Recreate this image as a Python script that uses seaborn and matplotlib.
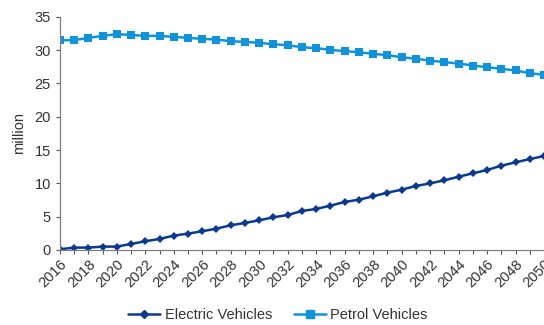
import pandas as pd
import matplotlib
matplotlib.use("Agg")
import matplotlib.pyplot as plt
import seaborn as sns

# data (million vehicles)
years = list(range(2016, 2051))
electric = [0.1, 0.35, 0.35, 0.5, 0.5, 0.9, 1.3, 1.65, 2.15, 2.45,
            2.8, 3.2, 3.7, 4.05, 4.45, 4.9, 5.25, 5.85, 6.15, 6.65,
            7.2, 7.55, 8.05, 8.6, 9.05, 9.6, 10.0, 10.45, 11.0, 11.5,
            12.0, 12.65, 13.15, 13.65, 14.1]
petrol = [31.5, 31.5, 31.85, 32.15, 32.4, 32.3, 32.15, 32.15, 32.0, 31.85,
          31.7, 31.6, 31.35, 31.25, 31.1, 30.9, 30.75, 30.45, 30.3, 30.05,
          29.85, 29.7, 29.45, 29.25, 28.95, 28.7, 28.45, 28.2, 28.0, 27.7,
          27.45, 27.2, 26.95, 26.55, 26.3]
series_names = ["Electric Vehicles", "Petrol Vehicles"]
colors = ["#0a3a90", "#0f94dc"]

df = pd.DataFrame({"year": years, series_names[0]: electric, series_names[1]: petrol})
long_df = df.melt(id_vars="year", var_name="series", value_name="value")

sns.set_theme(style="white")
plt.rcParams["font.family"] = ["Liberation Sans", "DejaVu Sans"]

fig = plt.figure(figsize=(5.44, 3.25), dpi=100)
ax = fig.add_axes([0.110, 0.231, 0.89, 0.717])

sns.lineplot(data=long_df, x="year", y="value", hue="series", style="series",
             palette=colors, markers=["D", "s"], dashes=False, linewidth=1.8,
             markersize=5, markeredgewidth=0, ax=ax, legend=False)
# diamond a bit smaller than the square
for line, ms in zip(ax.lines, [4.5, 6.0]):
    line.set_markersize(ms)

ax.set_xlim(2016, 2050)
ax.set_ylim(0, 35)
ax.set_xticks(years, minor=True)
ax.set_xticks(years[::2])
ax.set_xticklabels([str(y) for y in years[::2]], rotation=45, ha="right",
                   rotation_mode="anchor")
ax.set_yticks(range(0, 36, 5))
ax.tick_params(axis="both", which="both", direction="out", length=3, width=0.8,
               color="#555555", labelsize=10.5, labelcolor="#333333", bottom=True, left=True)
ax.tick_params(axis="x", pad=2)
ax.set_xlabel("")
ax.set_ylabel("million", fontsize=10.5, color="#333333", labelpad=6)

for side in ["top", "right"]:
    ax.spines[side].set_visible(False)
for side in ["left", "bottom"]:
    ax.spines[side].set_color("#808080")
    ax.spines[side].set_linewidth(0.9)

handles = [plt.Line2D([], [], color=colors[0], marker="D", markersize=4.5, lw=1.8),
           plt.Line2D([], [], color=colors[1], marker="s", markersize=5.5, lw=1.8)]
fig.legend(handles, series_names, loc="center", bbox_to_anchor=(0.511, 0.03),
           ncol=2, frameon=False, fontsize=10.5, handlelength=2.2, handletextpad=0.3,
           columnspacing=1.5, labelcolor="#333333")

fig.savefig("out.png", dpi=100)
